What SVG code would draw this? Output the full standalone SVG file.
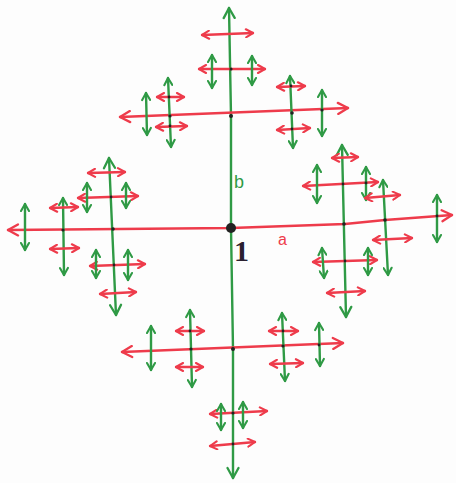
<svg xmlns="http://www.w3.org/2000/svg" width="456" height="483" viewBox="0 0 456 483">
<style>
.g{stroke:#2f9a45;stroke-width:2.4;fill:none;stroke-linecap:round}
.r{stroke:#ee3b4b;stroke-width:2.4;fill:none;stroke-linecap:round}
.gL{marker-start:url(#mgL);marker-end:url(#mgL)}
.gS{marker-start:url(#mgS);marker-end:url(#mgS)}
.rL{marker-start:url(#mrL);marker-end:url(#mrL)}
.rS{marker-start:url(#mrS);marker-end:url(#mrS)}
.v{fill:#222}
.t{font-family:"Liberation Sans",Arial,sans-serif}
</style>
<defs>
<marker id="mgL" markerUnits="userSpaceOnUse" markerWidth="14" markerHeight="14" viewBox="0 0 14 14" refX="12" refY="7" orient="auto-start-reverse"><path d="M2,1.5 L12,7 L2,12.5" fill="none" stroke="#2f9a45" stroke-width="2.3" stroke-linecap="round" stroke-linejoin="round"/></marker>
<marker id="mgS" markerUnits="userSpaceOnUse" markerWidth="10" markerHeight="10" viewBox="0 0 10 10" refX="9" refY="5" orient="auto-start-reverse"><path d="M2,1 L9,5 L2,9" fill="none" stroke="#2f9a45" stroke-width="2.1" stroke-linecap="round" stroke-linejoin="round"/></marker>
<marker id="mrL" markerUnits="userSpaceOnUse" markerWidth="14" markerHeight="14" viewBox="0 0 14 14" refX="12" refY="7" orient="auto-start-reverse"><path d="M2,1.5 L12,7 L2,12.5" fill="none" stroke="#ee3b4b" stroke-width="2.3" stroke-linecap="round" stroke-linejoin="round"/></marker>
<marker id="mrS" markerUnits="userSpaceOnUse" markerWidth="10" markerHeight="10" viewBox="0 0 10 10" refX="9" refY="5" orient="auto-start-reverse"><path d="M2,1 L9,5 L2,9" fill="none" stroke="#ee3b4b" stroke-width="2.1" stroke-linecap="round" stroke-linejoin="round"/></marker>
</defs>
<rect width="456" height="483" fill="#fdfdfd"/>
<g id="connectors">
<!-- main -->
<polyline class="r rL" points="8,230 231,228 345,224 385,220 452,215"/>
<polyline class="g gL" points="229,8 231,116 231,228 233,349 233,478"/>
<!-- top arm -->
<line class="r rL" x1="120" y1="117" x2="348" y2="108"/>
<line class="r rS" x1="199" y1="69" x2="265" y2="69"/>
<line class="r rS" x1="202" y1="35" x2="253" y2="33"/>
<line class="g gS" x1="212" y1="55" x2="212" y2="88"/>
<line class="g gS" x1="252" y1="56" x2="252" y2="85"/>
<line class="g gS" x1="168" y1="78" x2="171" y2="147"/>
<line class="r rS" x1="157" y1="97" x2="184" y2="97"/>
<line class="r rS" x1="156" y1="127" x2="187" y2="126"/>
<line class="g gS" x1="146" y1="93" x2="147" y2="135"/>
<line class="g gS" x1="290" y1="76" x2="293" y2="148"/>
<line class="r rS" x1="277" y1="87" x2="305" y2="86"/>
<line class="r rS" x1="277" y1="130" x2="310" y2="128"/>
<line class="g gS" x1="322" y1="90" x2="322" y2="136"/>
<!-- left arm -->
<line class="g gL" x1="109" y1="158" x2="116" y2="315"/>
<line class="r rS" x1="78" y1="198" x2="138" y2="196"/>
<line class="r rS" x1="88" y1="173" x2="125" y2="172"/>
<line class="r rS" x1="90" y1="266" x2="145" y2="264"/>
<line class="r rS" x1="100" y1="294" x2="136" y2="292"/>
<line class="g gS" x1="87" y1="183" x2="87" y2="212"/>
<line class="g gS" x1="126" y1="183" x2="126" y2="208"/>
<line class="g gS" x1="96" y1="250" x2="96" y2="278"/>
<line class="g gS" x1="128" y1="250" x2="128" y2="280"/>
<line class="g gS" x1="63" y1="198" x2="64" y2="275"/>
<line class="r rS" x1="50" y1="208" x2="78" y2="207"/>
<line class="r rS" x1="50" y1="249" x2="79" y2="248"/>
<line class="g gS" x1="25" y1="204" x2="25" y2="250"/>
<!-- right arm -->
<line class="g gL" x1="342" y1="145" x2="346" y2="317"/>
<line class="r rS" x1="303" y1="186" x2="378" y2="182"/>
<line class="r rS" x1="332" y1="158" x2="358" y2="157"/>
<line class="r rS" x1="313" y1="262" x2="377" y2="260"/>
<line class="r rS" x1="327" y1="293" x2="365" y2="291"/>
<line class="g gS" x1="317" y1="165" x2="317" y2="203"/>
<line class="g gS" x1="366" y1="167" x2="366" y2="200"/>
<line class="g gS" x1="322" y1="248" x2="324" y2="278"/>
<line class="g gS" x1="368" y1="248" x2="368" y2="275"/>
<line class="g gS" x1="383" y1="180" x2="388" y2="275"/>
<line class="r rS" x1="365" y1="198" x2="400" y2="195"/>
<line class="r rS" x1="373" y1="240" x2="412" y2="238"/>
<line class="g gS" x1="437" y1="195" x2="437" y2="242"/>
<!-- bottom arm -->
<line class="r rL" x1="122" y1="352" x2="343" y2="343"/>
<line class="r rS" x1="210" y1="414" x2="267" y2="411"/>
<line class="r rS" x1="210" y1="446" x2="255" y2="442"/>
<line class="g gS" x1="221" y1="404" x2="221" y2="430"/>
<line class="g gS" x1="243" y1="402" x2="243" y2="428"/>
<line class="g gS" x1="190" y1="310" x2="192" y2="387"/>
<line class="r rS" x1="176" y1="331" x2="204" y2="331"/>
<line class="r rS" x1="176" y1="367" x2="203" y2="367"/>
<line class="g gS" x1="151" y1="326" x2="151" y2="370"/>
<line class="g gS" x1="282" y1="313" x2="285" y2="381"/>
<line class="r rS" x1="269" y1="331" x2="298" y2="331"/>
<line class="r rS" x1="270" y1="364" x2="303" y2="363"/>
<line class="g gS" x1="319" y1="323" x2="320" y2="366"/>
</g>
<g id="n-1"><circle class="v" cx="231" cy="228" r="5"/></g>
<g id="n-b"><circle class="v" cx="231" cy="116" r="2"/></g>
<g id="n-bb"><circle class="v" cx="231" cy="69" r="1.6"/></g>
<g id="n-ba-1"><circle class="v" cx="170" cy="116" r="1.6"/></g>
<g id="n-ba"><circle class="v" cx="292" cy="113" r="1.8"/></g>
<g id="n-bab"><circle class="v" cx="291" cy="86" r="1.4"/></g>
<g id="n-bab-1"><circle class="v" cx="292" cy="129" r="1.4"/></g>
<g id="n-ba-1b"><circle class="v" cx="169" cy="97" r="1.4"/></g>
<g id="n-ba-1b-1"><circle class="v" cx="170" cy="126" r="1.4"/></g>
<g id="n-baa"><circle class="v" cx="322" cy="110" r="1.6"/></g>
<g id="n-a-1"><circle class="v" cx="113" cy="229" r="1.8"/></g>
<g id="n-a-1b"><circle class="v" cx="111" cy="197" r="1.4"/></g>
<g id="n-a-1b-1"><circle class="v" cx="114" cy="265" r="1.4"/></g>
<g id="n-a-2"><circle class="v" cx="63" cy="230" r="1.6"/></g>
<g id="n-a"><circle class="v" cx="344" cy="224" r="1.8"/></g>
<g id="n-ab"><circle class="v" cx="343" cy="184" r="1.4"/></g>
<g id="n-ab-1"><circle class="v" cx="345" cy="261" r="1.4"/></g>
<g id="n-aba"><circle class="v" cx="366" cy="183" r="1.4"/></g>
<g id="n-aa"><circle class="v" cx="385" cy="220" r="1.8"/></g>
<g id="n-aaa"><circle class="v" cx="437" cy="216" r="1.4"/></g>
<g id="n-b-1"><circle class="v" cx="233" cy="349" r="2"/></g>
<g id="n-b-1a-1"><circle class="v" cx="191" cy="349" r="1.6"/></g>
<g id="n-b-1a"><circle class="v" cx="283" cy="346" r="1.6"/></g>
<g id="n-b-1ab"><circle class="v" cx="283" cy="331" r="1.4"/></g>
<g id="n-b-1a-1b"><circle class="v" cx="190" cy="331" r="1.4"/></g>
<g id="n-b-1aa"><circle class="v" cx="319" cy="345" r="1.4"/></g>
<g id="n-b-2"><circle class="v" cx="233" cy="413" r="1.6"/></g>
<g id="n-b-3"><circle class="v" cx="233" cy="444" r="1.4"/></g>
<g id="labels">
<text class="t" x="234" y="188" font-size="18" fill="#2f9a45">b</text>
<text class="t" x="278" y="245" font-size="16" fill="#ee3b4b">a</text>
<text x="234" y="261" font-size="30" font-weight="bold" fill="#2a2030" font-family="Liberation Serif, serif">1</text>
</g>
</svg>
